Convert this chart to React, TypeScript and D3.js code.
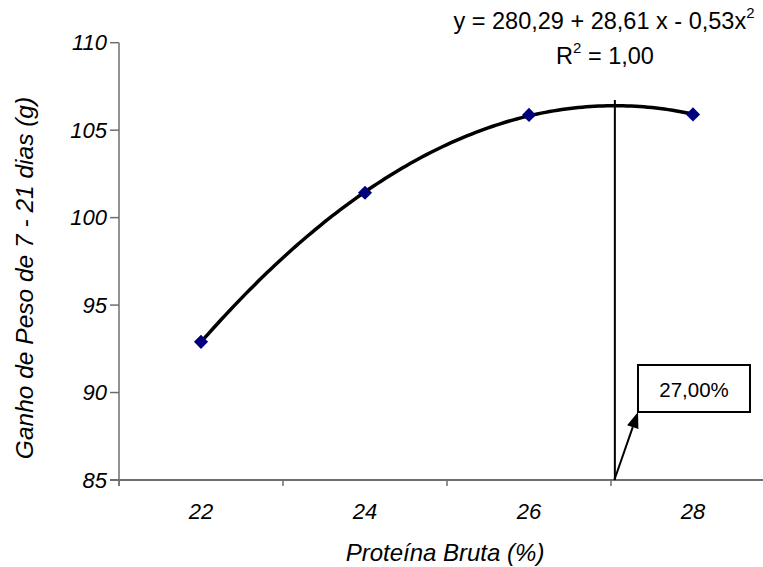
import React from "react";
import * as d3 from "d3";

const proteinLevels = [22, 24, 26, 28];
const weightGain = [92.9, 101.42, 105.87, 105.9];
const yTicks = [85, 90, 95, 100, 105, 110];
const xTickMarks = [21, 23, 25, 27, 29];
const xTickLabels = ["22", "24", "26", "28"];
const equationText = "y = 280,29 + 28,61 x - 0,53x";
const r2Text = "R";
const r2Value = " = 1,00";
const optimumLabel = "27,00%";
const xTitle = "Proteína Bruta (%)";
const yTitle = "Ganho de Peso de 7 - 21 dias (g)";
const vLineTop = 106.72;

function fitQuadratic(xs: number[], ys: number[]) {
  const n = xs.length;
  const s = [0, 0, 0, 0, 0];
  const t = [0, 0, 0];
  for (let i = 0; i < n; i++) {
    const xv = xs[i];
    const yv = ys[i];
    for (let k = 0; k < 5; k++) s[k] += Math.pow(xv, k);
    for (let k = 0; k < 3; k++) t[k] += Math.pow(xv, k) * yv;
  }
  const A = [
    [s[0], s[1], s[2], t[0]],
    [s[1], s[2], s[3], t[1]],
    [s[2], s[3], s[4], t[2]],
  ];
  for (let i = 0; i < 3; i++) {
    let p = i;
    for (let r = i + 1; r < 3; r++) if (Math.abs(A[r][i]) > Math.abs(A[p][i])) p = r;
    [A[i], A[p]] = [A[p], A[i]];
    for (let r = 0; r < 3; r++) {
      if (r === i) continue;
      const f = A[r][i] / A[i][i];
      for (let c = i; c < 4; c++) A[r][c] -= f * A[i][c];
    }
  }
  return [A[0][3] / A[0][0], A[1][3] / A[1][1], A[2][3] / A[2][2]];
}

export default function App() {
  const W = 763;
  const H = 567;
  const x = d3.scaleLinear().domain([21, 29]).range([119, 775]);
  const y = d3.scaleLinear().domain([85, 110]).range([480, 42.7]);
  const [a, b, c] = fitQuadratic(proteinLevels, weightGain);
  const f = (v: number) => a + b * v + c * v * v;
  const vertex = -b / (2 * c);
  const samples = d3.range(22, 28.0001, 0.05);
  const line = d3
    .line<number>()
    .x((v) => x(v))
    .y((v) => y(f(v)))
    .curve(d3.curveLinear);

  const axisColor = "#6e6e6e";
  const font = "'Liberation Sans', Arial, sans-serif";

  const boxX = 638;
  const boxY = 365;
  const boxW = 112;
  const boxH = 47;
  const arrowStart = [x(vertex) - 0.5, y(85)];
  const arrowEnd = [boxX, boxY + boxH];
  const ang = Math.atan2(arrowEnd[1] - arrowStart[1], arrowEnd[0] - arrowStart[0]);
  const hl = 16;
  const hw = 6;
  const bx = arrowEnd[0] - hl * Math.cos(ang);
  const by = arrowEnd[1] - hl * Math.sin(ang);
  const px = -Math.sin(ang);
  const py = Math.cos(ang);
  const head = `M${arrowEnd[0]},${arrowEnd[1]} L${bx + hw * px},${by + hw * py} L${bx - hw * px},${by - hw * py} Z`;

  return (
    <svg
      width={W}
      height={H}
      style={{ position: "absolute", left: 0, top: 0, background: "#fff" }}
      fontFamily={font}
    >
      <rect x={0} y={0} width={W} height={H} fill="#fff" />
      <line x1={x(21)} x2={x(21)} y1={y(110)} y2={y(85) + 6} stroke={axisColor} strokeWidth={1.5} />
      {yTicks.map((t) => (
        <g key={t}>
          <line x1={x(21) - 9} x2={x(21)} y1={y(t)} y2={y(t)} stroke={axisColor} strokeWidth={1.5} />
          <text
            x={x(21) - 12}
            y={y(t)}
            textAnchor="end"
            dominantBaseline="central"
            fontSize={22}
            fontStyle="italic"
          >
            {t}
          </text>
        </g>
      ))}
      <line x1={x(21) - 9} x2={W} y1={y(85)} y2={y(85)} stroke={axisColor} strokeWidth={2} />
      {xTickMarks.map((t) => (
        <line key={t} x1={x(t)} x2={x(t)} y1={y(85)} y2={y(85) + 6} stroke={axisColor} strokeWidth={1.5} />
      ))}
      {proteinLevels.map((p, i) => (
        <text
          key={p}
          x={x(p)}
          y={y(85) + 31}
          textAnchor="middle"
          dominantBaseline="central"
          fontSize={22}
          fontStyle="italic"
        >
          {xTickLabels[i]}
        </text>
      ))}
      <text x={445} y={552} textAnchor="middle" dominantBaseline="central" fontSize={24} fontStyle="italic">
        {xTitle}
      </text>
      <text
        transform={`translate(24,278) rotate(-90)`}
        textAnchor="middle"
        dominantBaseline="central"
        fontSize={24.5}
        fontStyle="italic"
      >
        {yTitle}
      </text>
      <line x1={x(vertex)} x2={x(vertex)} y1={y(85)} y2={y(vLineTop)} stroke="#000" strokeWidth={2} />
      <path d={line(samples) || ""} fill="none" stroke="#000" strokeWidth={3.5} strokeLinejoin="round" />
      {proteinLevels.map((p, i) => (
        <path
          key={p}
          d={d3.symbol().type(d3.symbolSquare).size(100)() || ""}
          transform={`translate(${x(p)},${y(weightGain[i])}) rotate(45)`}
          fill="#00007f"
        />
      ))}
      <line x1={arrowStart[0]} y1={arrowStart[1]} x2={bx} y2={by} stroke="#000" strokeWidth={2} />
      <path d={head} fill="#000" />
      <rect x={boxX} y={boxY} width={boxW} height={boxH} fill="#fff" stroke="#000" strokeWidth={2} />
      <text x={boxX + boxW / 2} y={boxY + boxH / 2 + 1} textAnchor="middle" dominantBaseline="central" fontSize={20.5}>
        {optimumLabel}
      </text>
      <text x={604} y={29} textAnchor="middle" fontSize={23.5}>
        {equationText}
        <tspan dy={-11} fontSize={15}>2</tspan>
      </text>
      <text x={605} y={64} textAnchor="middle" fontSize={23.5}>
        {r2Text}
        <tspan dy={-11} fontSize={15}>2</tspan>
        <tspan dy={11}>{r2Value}</tspan>
      </text>
    </svg>
  );
}
